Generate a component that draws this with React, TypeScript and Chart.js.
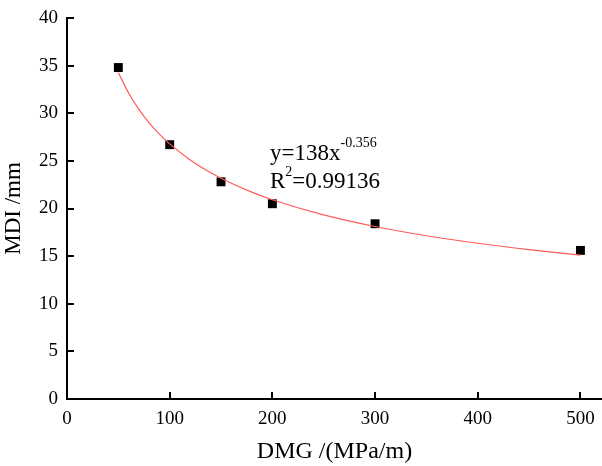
import React, { useEffect, useRef } from "react";
import { Chart, registerables } from "chart.js";

Chart.register(...registerables);

const dmg = [50, 100, 150, 200, 300, 500];
const mdi = [34.8, 26.7, 22.8, 20.5, 18.4, 15.6];

// fitted curve samples
const fitX = [50, 60, 70, 80, 90, 100, 120, 140, 160, 180, 200, 250, 300, 350, 400, 450, 500];
const fitY = [34.26, 32.12, 30.41, 28.99, 27.8, 26.78, 25.1, 23.76, 22.65, 21.72, 20.92, 19.33, 18.11, 17.14, 16.35, 15.68, 15.1];

const xTicks = [0, 100, 200, 300, 400, 500];
const yTicks = [0, 5, 10, 15, 20, 25, 30, 35, 40];

const FONT = "'Liberation Serif', 'Times New Roman', serif";

const inwardTicks = {
  id: "inwardTicks",
  afterDraw(chart: any) {
    const { ctx, scales, chartArea } = chart;
    const x = scales.x;
    const y = scales.y;
    ctx.save();
    ctx.fillStyle = "#000";
    for (const v of xTicks) {
      const px = Math.round(x.getPixelForValue(v));
      ctx.fillRect(px - 1, chartArea.bottom - 7, 2, 7);
    }
    for (const v of yTicks) {
      const py = Math.round(y.getPixelForValue(v));
      ctx.fillRect(chartArea.left, py - 1, 7, 2);
    }

    // equation text
    ctx.fillStyle = "#000";
    ctx.textBaseline = "alphabetic";
    ctx.textAlign = "left";
    const bx = 270;
    ctx.font = `23px ${FONT}`;
    ctx.fillText("y=138x", bx, 160);
    let w = ctx.measureText("y=138x").width;
    ctx.font = `14px ${FONT}`;
    ctx.fillText("-0.356", bx + w, 147);
    ctx.font = `23px ${FONT}`;
    ctx.fillText("R", bx, 188);
    w = ctx.measureText("R").width;
    ctx.font = `14px ${FONT}`;
    ctx.fillText("2", bx + w, 176);
    const w2 = ctx.measureText("2").width;
    ctx.font = `23px ${FONT}`;
    ctx.fillText("=0.99136", bx + w + w2, 188);
    ctx.restore();
  },
};

export default function App() {
  const ref = useRef<HTMLCanvasElement>(null);
  useEffect(() => {
    if (!ref.current) return;
    const chart = new Chart(ref.current, {
      type: "scatter",
      data: {
        datasets: [
          {
            type: "line",
            data: fitX.map((v, i) => ({ x: v, y: fitY[i] })),
            borderColor: "#ff5a5a",
            borderWidth: 1.2,
            pointRadius: 0,
            cubicInterpolationMode: "monotone",
            fill: false,
          } as any,
          {
            data: dmg.map((v, i) => ({ x: v, y: mdi[i] })),
            backgroundColor: "#000",
            borderColor: "#000",
            pointStyle: "rect",
            pointRadius: 6.3,
            borderWidth: 0,
          },
        ],
      },
      options: {
        animation: false,
        responsive: false,
        layout: { autoPadding: false, padding: { top: 18, right: 0, left: 0, bottom: 0 } },
        plugins: { legend: { display: false }, tooltip: { enabled: false } },
        scales: {
          x: {
            type: "linear",
            min: 0,
            max: 521,
            afterBuildTicks: (s: any) => {
              s.ticks = xTicks.map((v) => ({ value: v }));
            },
            afterFit: (s: any) => {
              s.height = 67;
              s.paddingRight = 0;
              s.paddingLeft = 0;
            },
            grid: { display: true, drawOnChartArea: false, drawTicks: false },
            border: { display: true, color: "#000", width: 2 },
            ticks: { color: "#000", font: { family: FONT, size: 19 }, padding: 9, maxRotation: 0 },
            title: {
              display: true,
              text: "DMG /(MPa/m)",
              color: "#000",
              font: { family: FONT, size: 24 },
              padding: { top: 2, bottom: 0 },
            },
          },
          y: {
            type: "linear",
            min: 0,
            max: 40,
            afterBuildTicks: (s: any) => {
              s.ticks = yTicks.map((v) => ({ value: v }));
            },
            afterFit: (s: any) => {
              s.width = 67;
              s.paddingTop = 0;
              s.paddingBottom = 0;
            },
            grid: { display: true, drawOnChartArea: false, drawTicks: false },
            border: { display: true, color: "#000", width: 2 },
            ticks: { color: "#000", font: { family: FONT, size: 19 }, padding: 9 },
            title: {
              display: true,
              text: "MDI /mm",
              color: "#000",
              font: { family: FONT, size: 23 },
              padding: { top: 0, bottom: 2 },
            },
          },
        },
      },
      plugins: [inwardTicks],
    });
    return () => chart.destroy();
  }, []);
  return (
    <div style={{ position: "fixed", left: 0, top: 0, width: 602, height: 466, background: "#fff" }}>
      <canvas ref={ref} width={602} height={466} style={{ width: 602, height: 466 }} />
    </div>
  );
}
